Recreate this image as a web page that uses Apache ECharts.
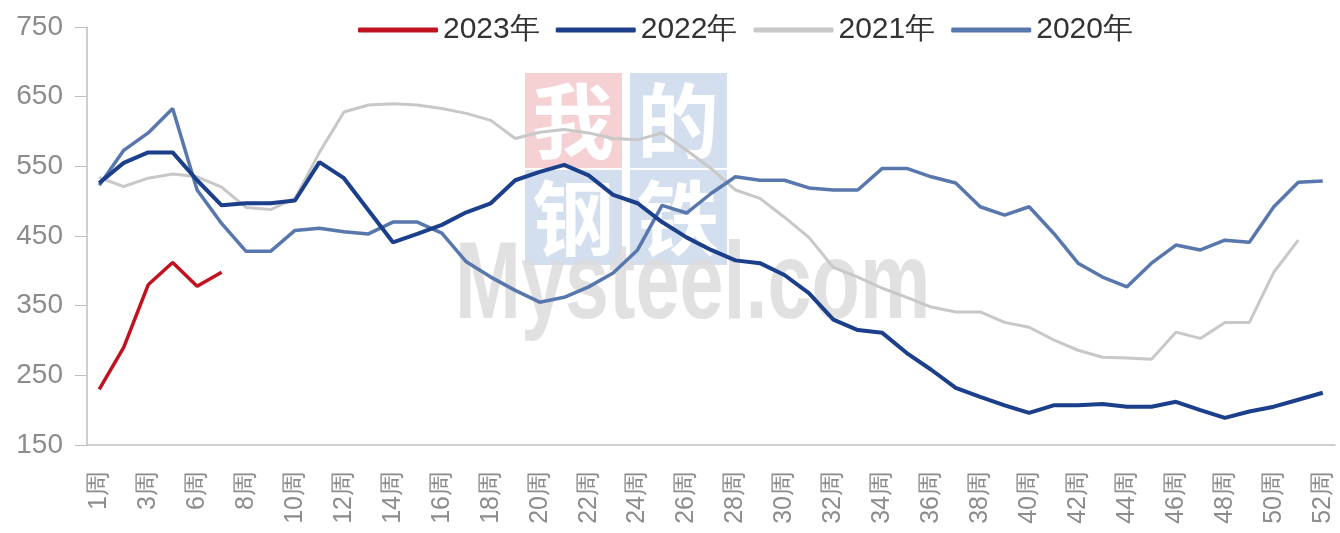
<!DOCTYPE html>
<html>
<head>
<meta charset="utf-8">
<script src="https://cdn.jsdelivr.net/npm/echarts@6/dist/echarts.min.js"></script>
<style>
  html, body { margin: 0; padding: 0; background: #fff; }
  #main { width: 1340px; height: 533px; }
</style>
</head>
<body>
<div id="main"></div>
<script>
// 周次（第5周缺失）
const weeks = ['1周', '2周', '3周', '4周', '6周', '7周', '8周', '9周', '10周', '11周',
  '12周', '13周', '14周', '15周', '16周', '17周', '18周', '19周', '20周', '21周',
  '22周', '23周', '24周', '25周', '26周', '27周', '28周', '29周', '30周', '31周',
  '32周', '33周', '34周', '35周', '36周', '37周', '38周', '39周', '40周', '41周',
  '42周', '43周', '44周', '45周', '46周', '47周', '48周', '49周', '50周', '51周', '52周'];

const y2023 = [230, 290, 380, 412, 378, 398];

const y2022 = [526, 555, 570, 570, 530, 494, 497, 497, 501, 556,
  533, 487, 441, 453, 466, 484, 497, 530, 542, 552,
  537, 509, 497, 470, 448, 430, 415, 411, 394, 368,
  330, 315, 311, 282, 258, 232, 219, 207, 196, 207,
  207, 209, 205, 205, 212, 200, 189, 198, 205, 215, 225];

const y2021 = [534, 521, 533, 539, 535, 520, 491, 488, 504, 570,
  628, 638, 640, 638, 633, 626, 616, 590, 599, 603,
  598, 590, 588, 598, 573, 547, 516, 504, 477, 448,
  405, 391, 375, 362, 348, 341, 341, 326, 319, 301,
  286, 276, 275, 273, 312, 303, 326, 326, 398, 444];

const y2020 = [523, 573, 598, 633, 516, 468, 428, 428, 458, 461,
  456, 453, 470, 470, 454, 413, 391, 372, 355, 362,
  377, 397, 430, 494, 483, 511, 535, 530, 530, 519,
  516, 516, 547, 547, 535, 526, 492, 480, 492, 454,
  411, 391, 377, 411, 437, 430, 444, 441, 492, 527, 529];

const yTicks = [150, 250, 350, 450, 550, 650, 750];

const myChart = echarts.init(document.getElementById('main'));

// 水印
const wmCells = [
  { ch: '我', x: 525, y: 73, fill: '#f3c9cd' },
  { ch: '的', x: 630, y: 73, fill: '#cbd8ec' },
  { ch: '钢', x: 525, y: 170, fill: '#cbd8ec' },
  { ch: '铁', x: 630, y: 170, fill: '#cbd8ec' },
];
const graphic = [];
wmCells.forEach((c) => {
  graphic.push({
    type: 'rect', silent: true, z: -10,
    shape: { x: c.x, y: c.y, width: 97, height: 95 },
    style: { fill: c.fill, opacity: 0.85 },
  });
  graphic.push({
    type: 'text', silent: true, z: -9,
    x: c.x + 48, y: c.y + 48,
    style: {
      text: c.ch, fill: '#fff', font: 'bold 82px "Noto Sans CJK SC"',
      align: 'center', verticalAlign: 'middle',
    },
  });
});
graphic.push({
  type: 'text', silent: true, z: -8,
  x: 455, y: 233, scaleX: 0.72,
  style: {
    text: 'Mysteel.com', fill: '#dcdcdc', opacity: 0.85,
    font: 'bold 110px "Liberation Sans"',
    align: 'left', verticalAlign: 'top',
  },
});

const option = {
  backgroundColor: '#fff',
  animation: false,
  graphic: graphic,
  legend: {
    left: 353,
    top: 10,
    icon: 'roundRect',
    itemWidth: 80,
    itemHeight: 5,
    itemGap: 16,
    textStyle: {
      fontFamily: 'Liberation Sans',
      fontSize: 30,
      color: '#333',
    },
    data: ['2023年', '2022年', '2021年', '2020年'],
  },
  grid: {
    left: 87,
    right: 5,
    top: 27,
    bottom: 88,
  },
  xAxis: {
    type: 'category',
    data: weeks,
    boundaryGap: true,
    axisLine: { lineStyle: { color: '#bfbfbf', width: 1.5 } },
    axisTick: { interval: 0, length: 12, lineStyle: { color: '#bfbfbf' } },
    axisLabel: {
      interval: 1,
      rotate: 90,
      margin: 26,
      fontSize: 25,
      fontFamily: 'Liberation Sans',
      color: '#8c8c8c',
    },
    splitLine: { show: false },
  },
  yAxis: {
    type: 'value',
    min: yTicks[0],
    max: yTicks[yTicks.length - 1],
    interval: 100,
    axisLine: { show: true, lineStyle: { color: '#bfbfbf', width: 1.5 } },
    axisTick: { show: true, length: 12, lineStyle: { color: '#bfbfbf' } },
    axisLabel: {
      margin: 24,
      fontSize: 28,
      fontFamily: 'Liberation Sans',
      color: '#8c8c8c',
    },
    splitLine: { show: false },
  },
  series: [
    {
      name: '2021年', type: 'line', data: y2021, symbol: 'none',
      z: 2, color: '#c8c8c8', lineStyle: { width: 3, color: '#c8c8c8' },
    },
    {
      name: '2020年', type: 'line', data: y2020, symbol: 'none',
      z: 3, color: '#5878ad', lineStyle: { width: 3.5, color: '#5878ad' },
    },
    {
      name: '2022年', type: 'line', data: y2022, symbol: 'none',
      z: 4, color: '#1b3f8b', lineStyle: { width: 4, color: '#1b3f8b' },
    },
    {
      name: '2023年', type: 'line', data: y2023, symbol: 'none',
      z: 5, color: '#c0121f', lineStyle: { width: 3.5, color: '#c0121f' },
    },
  ],
};

myChart.setOption(option);
</script>
</body>
</html>
